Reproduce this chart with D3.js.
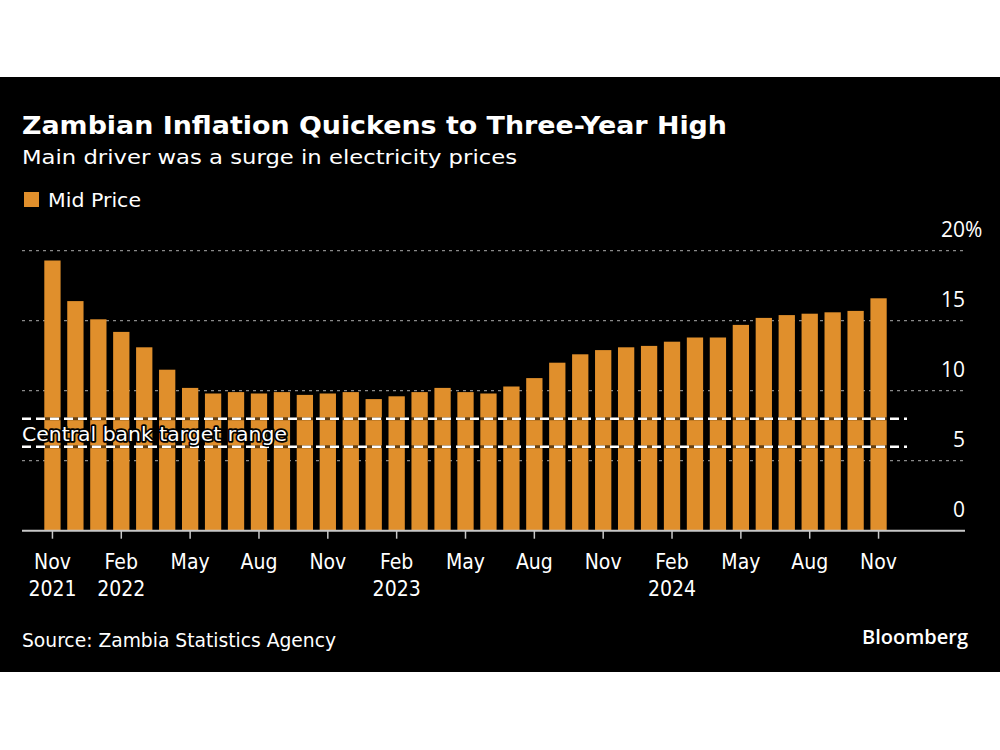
<!DOCTYPE html>
<html>
<head>
<meta charset="utf-8">
<script src="https://cdn.jsdelivr.net/npm/d3@7"></script>
<style>
  html, body { margin: 0; padding: 0; background: #ffffff; }
  svg { display: block; }
</style>
</head>
<body>
<svg id="chart" width="1000" height="750"></svg>
<script>
// ---- data ----
const months = [
  "2021-11","2021-12",
  "2022-01","2022-02","2022-03","2022-04","2022-05","2022-06","2022-07","2022-08","2022-09","2022-10","2022-11","2022-12",
  "2023-01","2023-02","2023-03","2023-04","2023-05","2023-06","2023-07","2023-08","2023-09","2023-10","2023-11","2023-12",
  "2024-01","2024-02","2024-03","2024-04","2024-05","2024-06","2024-07","2024-08","2024-09","2024-10","2024-11"
];
const midPrice = [
  19.3,16.4,
  15.1,14.2,13.1,11.5,10.2,9.8,9.9,9.8,9.9,9.7,9.8,9.9,
  9.4,9.6,9.9,10.2,9.9,9.8,10.3,10.9,12.0,12.6,12.9,13.1,
  13.2,13.5,13.8,13.8,14.7,15.2,15.4,15.5,15.6,15.7,16.6
];
const tickMonths = ["2021-11","2022-02","2022-05","2022-08","2022-11","2023-02","2023-05","2023-08","2023-11","2024-02","2024-05","2024-08","2024-11"];
const tickMonthLabels = ["Nov","Feb","May","Aug","Nov","Feb","May","Aug","Nov","Feb","May","Aug","Nov"];
const tickYearLabels = ["2021","2022","","","","2023","","","","2024","","",""];
const yTicks = [0,5,10,15,20];
const targetRange = [6, 8];

const title = "Zambian Inflation Quickens to Three-Year High";
const subtitle = "Main driver was a surge in electricity prices";
const seriesName = "Mid Price";
const sourceText = "Source: Zambia Statistics Agency";

// ---- layout ----
const svg = d3.select("#chart");
const barColor = "#e08f2c";
const plotLeft = 22, plotRight = 965;

svg.append("rect").attr("x", 0).attr("y", 77).attr("width", 1000).attr("height", 595).attr("fill", "#000");

const x = d3.scaleBand().domain(months).range([44.3, 886.7]).paddingInner(0.29).paddingOuter(0);
const y = d3.scaleLinear().domain([0, 20]).range([530.7, 250.7]);

// title etc
svg.append("text").attr("x", 22).attr("y", 134).text(title)
  .attr("fill", "#fff").attr("font-family", "DejaVu Sans").attr("font-weight", "bold")
  .attr("font-size", 24).attr("textLength", 705).attr("lengthAdjust", "spacingAndGlyphs");
svg.append("text").attr("x", 22).attr("y", 164).text(subtitle)
  .attr("fill", "#fff").attr("font-family", "DejaVu Sans").attr("font-size", 20)
  .attr("textLength", 495).attr("lengthAdjust", "spacingAndGlyphs");

// legend
svg.append("rect").attr("x", 24).attr("y", 192).attr("width", 15).attr("height", 15).attr("fill", barColor);
svg.append("text").attr("x", 48).attr("y", 207).text(seriesName)
  .attr("fill", "#fff").attr("font-family", "DejaVu Sans").attr("font-size", 20)
  .attr("textLength", 93).attr("lengthAdjust", "spacingAndGlyphs");

// gridlines
const grid = svg.append("g");
grid.selectAll("line").data(yTicks.filter(d => d > 0)).join("line")
  .attr("x1", plotLeft).attr("x2", 964)
  .attr("y1", d => y(d)).attr("y2", d => y(d))
  .attr("stroke", "#8a8a8a").attr("stroke-width", 1.3).attr("stroke-dasharray", "3,4");

// y labels
const yl = svg.append("g").attr("font-family", "Open Sans").attr("font-size", 21).attr("fill", "#fff");
yl.selectAll("text").data(yTicks).join("text")
  .attr("x", 965).attr("y", d => y(d) - 14)
  .attr("text-anchor", "end")
  .text(d => d);
yl.append("text").attr("x", 965).attr("y", y(20) - 14).text("%");

// bars
svg.append("g").selectAll("rect").data(months).join("rect")
  .attr("x", d => x(d)).attr("width", x.bandwidth())
  .attr("y", (d, i) => y(midPrice[i]))
  .attr("height", (d, i) => y(0) - y(midPrice[i]))
  .attr("fill", barColor);

// target range dashed lines
const tr = svg.append("g");
targetRange.forEach(v => {
  tr.append("line").attr("x1", plotLeft).attr("x2", 907).attr("y1", y(v)).attr("y2", y(v))
    .attr("stroke", "rgba(0,0,0,0.55)").attr("stroke-width", 3);
  tr.append("line").attr("x1", plotLeft).attr("x2", 907).attr("y1", y(v)).attr("y2", y(v))
    .attr("stroke", "#fff").attr("stroke-width", 2.5).attr("stroke-dasharray", "9,5");
});
svg.append("text").attr("x", 22).attr("y", (y(6) + y(8)) / 2 + 8)
  .text("Central bank target range")
  .attr("font-family", "DejaVu Sans").attr("font-size", 20)
  .attr("fill", "#fff").attr("stroke", "#000").attr("stroke-width", 3.5)
  .attr("paint-order", "stroke").attr("stroke-linejoin", "round")
  .attr("textLength", 265).attr("lengthAdjust", "spacingAndGlyphs");

// x axis
const xAxis = d3.axisBottom(x).tickValues(tickMonths).tickSize(8).tickSizeOuter(0).tickFormat(() => "");
const gx = svg.append("g").attr("transform", `translate(0,${y(0)})`).call(xAxis);
gx.select(".domain").remove();
gx.selectAll(".tick line").attr("stroke", "#c8c8c8").attr("stroke-width", 1.5);
svg.append("line").attr("x1", plotLeft).attr("x2", plotRight).attr("y1", y(0)).attr("y2", y(0))
  .attr("stroke", "#c8c8c8").attr("stroke-width", 2);

const xl = svg.append("g").attr("font-family", "DejaVu Sans Condensed").attr("font-size", 21).attr("fill", "#fff").attr("text-anchor", "middle");
tickMonths.forEach((m, i) => {
  const cx = x(m) + x.bandwidth() / 2;
  xl.append("text").attr("x", cx).attr("y", 569).text(tickMonthLabels[i]);
  if (tickYearLabels[i]) xl.append("text").attr("x", cx).attr("y", 595.5).text(tickYearLabels[i]);
});

// footer
svg.append("text").attr("x", 22).attr("y", 646.5).text(sourceText)
  .attr("fill", "#fff").attr("font-family", "DejaVu Sans Condensed").attr("font-size", 19)
  .attr("textLength", 314).attr("lengthAdjust", "spacingAndGlyphs");
svg.append("text").attr("x", 862).attr("y", 643.5).text("Bloomberg")
  .attr("fill", "#fff").attr("font-family", "Open Sans").attr("font-weight", 600).attr("font-size", 20)
  .attr("textLength", 106).attr("lengthAdjust", "spacingAndGlyphs");
</script>
</body>
</html>
